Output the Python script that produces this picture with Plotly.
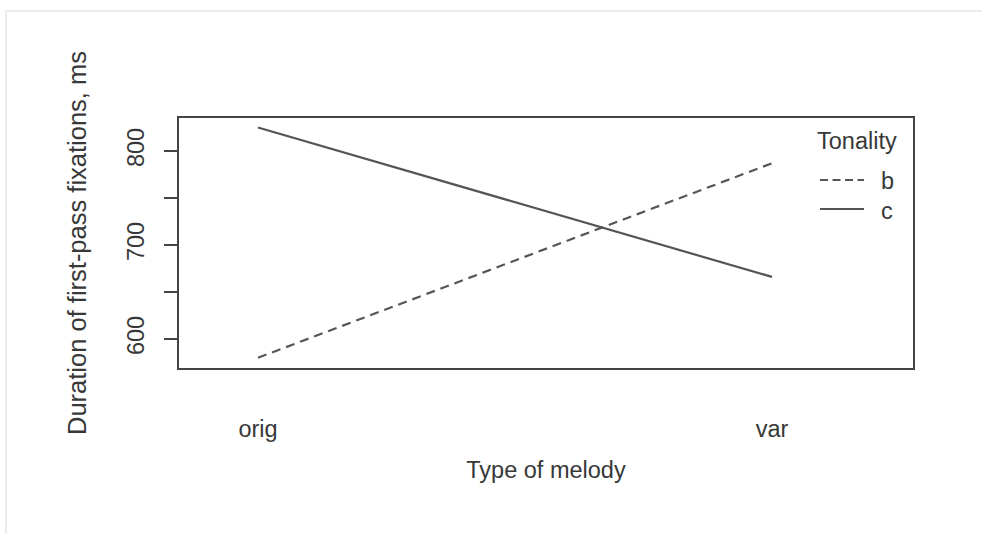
import plotly.graph_objects as go

# Mean first-pass fixation durations by melody type and tonality
melody_types = ["orig", "var"]
tonality_b = [580, 787]
tonality_c = [825, 666]
y_ticks = [600, 650, 700, 750, 800]
y_tick_labels = ["600", "", "700", "", "800"]

FONT = "Liberation Sans, Arial, sans-serif"
INK = "#444444"
TXT = "#383838"
LINE = "#555555"

fig = go.Figure()
fig.add_trace(go.Scatter(x=melody_types, y=tonality_b, mode="lines", name="b",
                         line=dict(color=LINE, width=2.2, dash="9px,6px")))
fig.add_trace(go.Scatter(x=melody_types, y=tonality_c, mode="lines", name="c",
                         line=dict(color=LINE, width=2.2)))

# Plot region in pixels: x 179..913, y 118..368
L, R, T, B, W, H = 179, 913, 118, 368, 982, 534
pw, ph = R - L, B - T


def px(x):
    return (x - L) / pw


def py(y):
    return (B - y) / ph


shapes = [
    # faint outer frame
    dict(type="line", xref="paper", yref="paper", x0=px(6), x1=px(990), y0=py(11), y1=py(11),
         line=dict(color="#ebebeb", width=2)),
    dict(type="line", xref="paper", yref="paper", x0=px(6), x1=px(6), y0=py(11), y1=py(540),
         line=dict(color="#ebebeb", width=2)),
    # legend keys
    dict(type="line", xref="paper", yref="paper", x0=px(820), x1=px(864), y0=py(180), y1=py(180),
         line=dict(color=LINE, width=2.2, dash="8px,4.5px")),
    dict(type="line", xref="paper", yref="paper", x0=px(820), x1=px(864), y0=py(209), y1=py(209),
         line=dict(color=LINE, width=2.2)),
]

annotations = [
    dict(text="Tonality", xref="paper", yref="paper", x=px(815), y=py(141), xanchor="left",
         yanchor="middle", showarrow=False, font=dict(family=FONT, size=23.5, color=TXT)),
    dict(text="b", xref="paper", yref="paper", x=px(879), y=py(181), xanchor="left",
         yanchor="middle", showarrow=False, font=dict(family=FONT, size=23.5, color=TXT)),
    dict(text="c", xref="paper", yref="paper", x=px(879), y=py(211), xanchor="left",
         yanchor="middle", showarrow=False, font=dict(family=FONT, size=23.5, color=TXT)),
]

fig.update_layout(
    width=W, height=H,
    margin=dict(l=L, r=W - R, t=T, b=H - B, pad=0),
    paper_bgcolor="white", plot_bgcolor="white",
    showlegend=False,
    font=dict(family=FONT, size=23, color=TXT),
    shapes=shapes,
    annotations=annotations,
    xaxis=dict(
        type="category", range=[-0.1537, 1.2743],
        showgrid=False, zeroline=False,
        showline=True, mirror=True, linecolor=INK, linewidth=2,
        ticks="", ticklabelstandoff=39,
        tickfont=dict(family=FONT, size=23.5, color=TXT),
        title=dict(text="Type of melody", standoff=20,
                   font=dict(family=FONT, size=23.5, color=TXT)),
    ),
    yaxis=dict(
        range=[569.1, 835.1],
        tickvals=y_ticks, ticktext=y_tick_labels,
        showgrid=False, zeroline=False,
        showline=True, mirror=True, linecolor=INK, linewidth=2,
        ticks="outside", ticklen=13, tickwidth=2, tickcolor=INK,
        tickangle=-90, ticklabelstandoff=11,
        tickfont=dict(family=FONT, size=23.5, color=TXT),
        title=dict(text="Duration of first-pass fixations, ms", standoff=29,
                   font=dict(family=FONT, size=25.5, color=TXT)),
    ),
)

fig.write_html("out.html")
